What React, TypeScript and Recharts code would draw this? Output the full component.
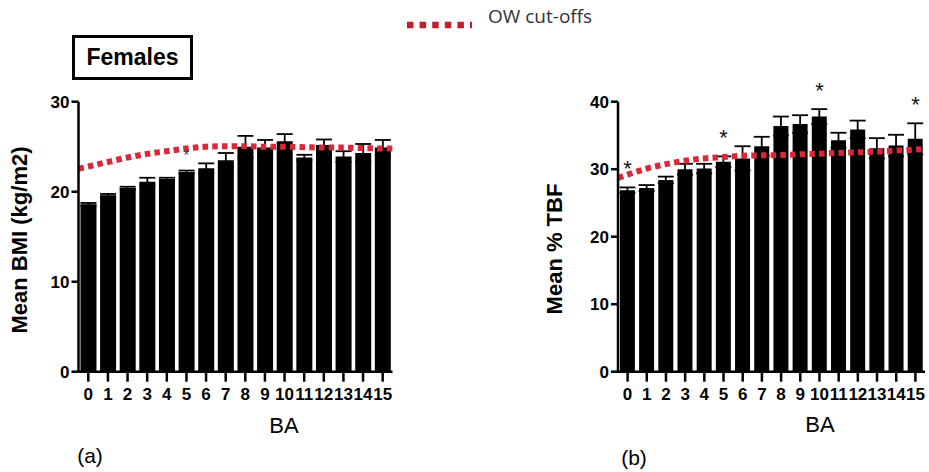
import {
  ComposedChart,
  Bar,
  Line,
  XAxis,
  YAxis,
  ErrorBar,
  LabelList,
} from "recharts";

const baTicks = ["0", "1", "2", "3", "4", "5", "6", "7", "8", "9", "10", "11", "12", "13", "14", "15"];

const bmiMean = [18.6, 19.6, 20.4, 21.1, 21.4, 22.2, 22.6, 23.5, 25.0, 24.9, 25.6, 23.8, 25.2, 23.9, 24.3, 24.9];
const bmiSem = [0.15, 0.15, 0.15, 0.45, 0.15, 0.15, 0.55, 0.8, 1.2, 0.85, 0.8, 0.3, 0.6, 0.6, 1.0, 0.85];
const bmiStars = [5];

const tbfMean = [26.9, 27.2, 28.4, 30.0, 30.1, 31.1, 31.6, 33.4, 36.4, 36.7, 37.8, 34.3, 35.9, 33.1, 33.5, 34.5];
const tbfSem = [0.4, 0.45, 0.5, 0.8, 0.7, 0.8, 1.8, 1.4, 1.4, 1.3, 1.1, 1.1, 1.3, 1.5, 1.6, 2.3];
const tbfStars = [0, 5, 10, 15];

// OW cut-off curve, sampled at BA positions (half steps at the ends)
const owX = [-0.5, 0, 1, 2, 3, 4, 5, 6, 7, 8, 9, 10, 11, 12, 13, 14, 15, 15.5];
const owBmi = [22.55, 22.8, 23.3, 23.8, 24.2, 24.5, 24.8, 25.0, 25.05, 25.05, 25.0, 25.0, 24.95, 24.9, 24.9, 24.85, 24.8, 24.8];
const owTbf = [28.7, 29.2, 30.1, 30.75, 31.25, 31.6, 31.8, 32.0, 32.05, 32.1, 32.2, 32.3, 32.4, 32.5, 32.6, 32.75, 32.9, 33.0];

const bmiTicks = [0, 10, 20, 30];
const tbfTicks = [0, 10, 20, 30, 40];

const FONT = "'Liberation Sans', Arial, sans-serif";
const RED = "#d8283a";
const AXIS = { stroke: "#000", strokeWidth: 2.5 };

function makeRows(mean: number[], sem: number[], stars: number[]) {
  return baTicks.map((ba, i) => ({
    ba,
    mean: mean[i],
    err: sem[i],
    star: stars.includes(i) ? mean[i] + sem[i] : null,
  }));
}

function starLabel(size: number, lift: number, color: string) {
  return (props: any) => {
    const { x, y, value } = props;
    if (value == null) return null;
    return (
      <text x={x} y={y - lift} textAnchor="middle" fontSize={size} fontFamily={FONT} fill={color}>
        *
      </text>
    );
  };
}

interface PanelProps {
  left: number;
  width: number;
  margin: { top: number; right: number; bottom: number; left: number };
  mean: number[];
  sem: number[];
  stars: number[];
  ow: number[];
  yMax: number;
  yTicks: number[];
  star: { size: number; lift: number; color: string };
}

function Panel(p: PanelProps) {
  const rows = makeRows(p.mean, p.sem, p.stars);
  const owRows = owX.map((x, i) => ({ x, v: p.ow[i] }));
  return (
    <div style={{ position: "absolute", left: p.left, top: 0 }}>
      <ComposedChart width={p.width} height={472} data={rows} margin={p.margin}>
        <XAxis
          xAxisId="cat"
          dataKey="ba"
          interval={0}
          height={40}
          axisLine={AXIS}
          tickLine={AXIS}
          tickSize={10}
          tickMargin={6}
          tick={{ fontSize: 17, fontWeight: 700, fill: "#000", fontFamily: FONT }}
        />
        <XAxis xAxisId="num" type="number" dataKey="x" domain={[-0.5, 15.5]} hide />
        <YAxis
          width={40}
          domain={[0, p.yMax]}
          ticks={p.yTicks}
          interval={0}
          axisLine={AXIS}
          tickLine={AXIS}
          tickSize={7}
          tickMargin={2}
          tick={{ fontSize: 17, fontWeight: 700, fill: "#000", fontFamily: FONT }}
        />
        <Bar xAxisId="cat" dataKey="mean" fill="#000" barCategoryGap="9%" isAnimationActive={false}>
          <ErrorBar dataKey="err" width={8} stroke="#000" strokeWidth={1.8} direction="y" />
        </Bar>
        <Line
          xAxisId="num"
          data={owRows}
          dataKey="v"
          type="monotone"
          stroke={RED}
          strokeWidth={6}
          strokeDasharray="5.5 4.2"
          dot={false}
          activeDot={false}
          isAnimationActive={false}
        />
        <Line
          xAxisId="cat"
          dataKey="star"
          stroke="none"
          dot={false}
          activeDot={false}
          isAnimationActive={false}
        >
          <LabelList dataKey="star" content={starLabel(p.star.size, p.star.lift, p.star.color)} />
        </Line>
      </ComposedChart>
    </div>
  );
}

const text = (extra: React.CSSProperties): React.CSSProperties => ({
  position: "absolute",
  whiteSpace: "nowrap",
  fontFamily: FONT,
  color: "#000",
  lineHeight: 1,
  ...extra,
});

export default function App() {
  return (
    <div style={{ position: "absolute", left: 0, top: 0, width: 929, height: 472, background: "#fff", overflow: "hidden" }}>
      {/* legend */}
      <svg style={{ position: "absolute", left: 400, top: 15 }} width={80} height={20}>
        <line x1={7} y1={10} x2={72} y2={10} stroke="#c21f2e" strokeWidth={6.5} strokeDasharray="6.5 6.1" />
      </svg>
      <div style={text({ left: 488, top: 7, fontSize: 19, fontFamily: "'Open Sans', sans-serif", color: "#333" })}>
        OW cut-offs
      </div>

      <div
        style={{
          position: "absolute",
          left: 72,
          top: 35,
          width: 121,
          height: 45,
          boxSizing: "border-box",
          border: "3px solid #000",
          display: "flex",
          alignItems: "center",
          justifyContent: "center",
          fontFamily: FONT,
          fontWeight: 700,
          fontSize: 23,
        }}
      >
        Females
      </div>

      <Panel
        left={0}
        width={420}
        margin={{ top: 101.7, right: 27.5, bottom: 60.3, left: 38.5 }}
        mean={bmiMean}
        sem={bmiSem}
        stars={bmiStars}
        ow={owBmi}
        yMax={30}
        yTicks={bmiTicks}
        star={{ size: 16, lift: 10, color: "#444" }}
      />
      <Panel
        left={500}
        width={429}
        margin={{ top: 101.7, right: 4, bottom: 60.3, left: 78 }}
        mean={tbfMean}
        sem={tbfSem}
        stars={tbfStars}
        ow={owTbf}
        yMax={40}
        yTicks={tbfTicks}
        star={{ size: 22, lift: 11, color: "#111" }}
      />

      <div style={text({ left: 20, top: 240, fontSize: 22, fontWeight: 700, transform: "translate(-50%, -50%) rotate(-90deg)" })}>
        Mean BMI (kg/m2)
      </div>
      <div style={text({ left: 555, top: 249, fontSize: 22, fontWeight: 700, transform: "translate(-50%, -50%) rotate(-90deg)" })}>
        Mean % TBF
      </div>

      <div style={text({ left: 284, top: 426, fontSize: 22, transform: "translate(-50%, -50%)" })}>BA</div>
      <div style={text({ left: 820, top: 425, fontSize: 22, transform: "translate(-50%, -50%)" })}>BA</div>
      <div style={text({ left: 90, top: 455, fontSize: 21, transform: "translate(-50%, -50%)" })}>(a)</div>
      <div style={text({ left: 634, top: 457, fontSize: 21, transform: "translate(-50%, -50%)" })}>(b)</div>
    </div>
  );
}
